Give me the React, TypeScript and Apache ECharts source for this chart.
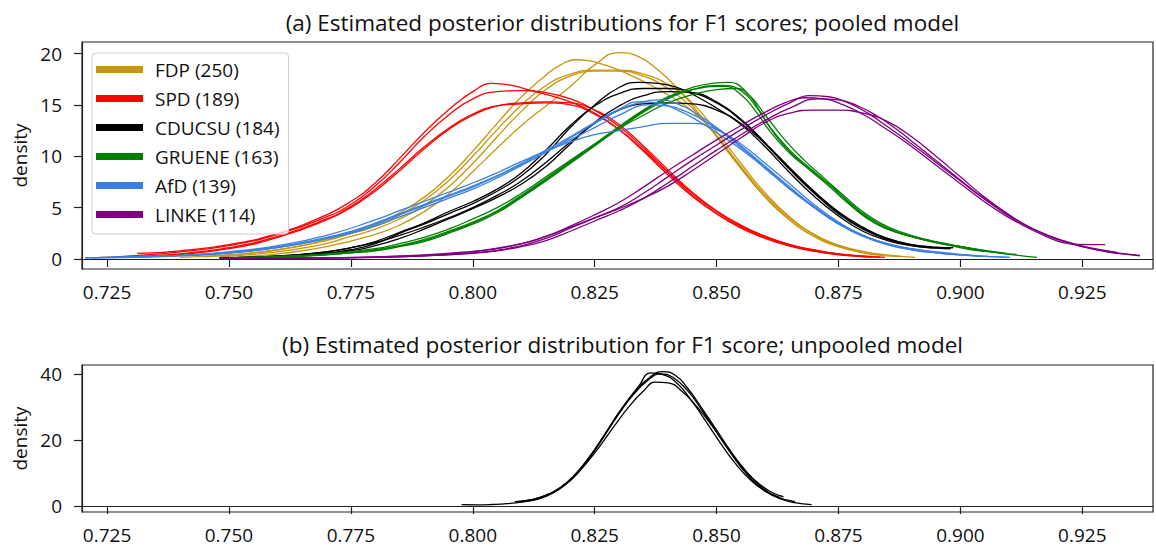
import React, { useEffect, useRef } from "react";
import * as echarts from "echarts";

const X_TICKS = [0.725, 0.75, 0.775, 0.8, 0.825, 0.85, 0.875, 0.9, 0.925];
const Y_TICKS_A = [0, 5, 10, 15, 20];
const Y_TICKS_B = [0, 20, 40];

const PARTIES = ["FDP (250)", "SPD (189)", "CDUCSU (184)", "GRUENE (163)", "AfD (139)", "LINKE (114)"];
const PARTY_COLORS = ["#c8960c", "#ff0000", "#000000", "#008000", "#3a80e3", "#800080"];

const TITLE_A = "(a) Estimated posterior distributions for F1 scores; pooled model";
const TITLE_B = "(b) Estimated posterior distribution for F1 score; unpooled model";

// FDP chains
const FDP_A = [[0.740,0.15],[0.750,0.4],[0.760,0.9],[0.770,1.8],[0.775,2.5],[0.780,3.3],[0.785,4.5],[0.790,6.0],[0.795,8.0],[0.800,10.5],[0.805,13.2],[0.810,15.8],[0.815,17.9],[0.818,18.9],[0.821,19.4],[0.824,19.3],[0.827,18.9],[0.830,18.4],[0.835,17.3],[0.840,16.0],[0.845,14.4],[0.850,12.0],[0.855,8.9],[0.860,6.0],[0.865,3.8],[0.870,2.2],[0.875,1.2],[0.880,0.7]];
const FDP_B = [[0.745,0.2],[0.755,0.6],[0.765,1.3],[0.775,2.5],[0.780,3.2],[0.785,4.3],[0.790,5.7],[0.795,7.6],[0.800,10.0],[0.805,12.6],[0.810,15.0],[0.815,16.9],[0.820,18.0],[0.825,18.4],[0.830,18.4],[0.835,18.0],[0.840,17.0],[0.845,15.2],[0.850,12.4],[0.855,9.3],[0.860,6.4],[0.865,4.1],[0.870,2.4],[0.875,1.35],[0.880,0.75],[0.885,0.4],[0.8907,0.15]];
const FDP_C = [[0.748,0.2],[0.758,0.6],[0.768,1.3],[0.775,2.2],[0.780,2.9],[0.785,3.9],[0.790,5.2],[0.795,7.0],[0.800,9.3],[0.805,11.9],[0.810,14.4],[0.815,16.5],[0.820,17.8],[0.825,18.3],[0.830,18.3],[0.835,17.8],[0.840,16.6],[0.845,14.7],[0.850,12.0],[0.855,9.0],[0.860,6.2],[0.865,4.0],[0.870,2.4],[0.875,1.3],[0.880,0.7],[0.8835,0.4]];
const FDP_D = [[0.752,0.2],[0.760,0.5],[0.770,1.2],[0.780,2.4],[0.785,3.3],[0.790,4.6],[0.795,6.3],[0.800,8.5],[0.805,10.8],[0.810,13.0],[0.815,14.9],[0.820,16.8],[0.825,18.9],[0.830,20.1],[0.834,19.7],[0.838,18.4],[0.842,16.6],[0.846,14.4],[0.850,11.9],[0.855,8.8],[0.860,6.0],[0.865,3.8],[0.870,2.2],[0.875,1.2],[0.880,0.6],[0.885,0.3],[0.888,0.25]];

// SPD chains
const SPD_A = [[0.7312,0.55],[0.740,0.8],[0.750,1.4],[0.760,2.5],[0.770,4.3],[0.775,5.6],[0.780,7.4],[0.785,9.8],[0.790,12.3],[0.795,14.5],[0.800,16.3],[0.804,17.1],[0.808,16.9],[0.812,16.4],[0.816,15.9],[0.820,15.3],[0.825,14.2],[0.830,12.6],[0.835,10.5],[0.840,8.2],[0.845,6.1],[0.850,4.4],[0.855,3.1],[0.860,2.1],[0.865,1.3],[0.870,0.8],[0.875,0.45],[0.880,0.25],[0.8835,0.15]];
const SPD_B = [[0.722,0.1],[0.730,0.3],[0.740,0.7],[0.750,1.3],[0.760,2.4],[0.770,4.1],[0.775,5.3],[0.780,7.1],[0.785,9.4],[0.790,11.9],[0.795,14.0],[0.800,15.6],[0.805,16.3],[0.810,16.4],[0.815,16.2],[0.820,15.6],[0.825,14.5],[0.830,12.9],[0.835,10.8],[0.840,8.5],[0.845,6.4],[0.850,4.6],[0.855,3.2],[0.860,2.2],[0.865,1.4],[0.870,0.85],[0.875,0.5],[0.880,0.3],[0.8845,0.15]];
const SPD_C = [[0.735,0.3],[0.740,0.45],[0.750,1.0],[0.760,2.1],[0.770,3.8],[0.775,5.0],[0.780,6.6],[0.785,8.6],[0.790,10.7],[0.795,12.6],[0.800,14.0],[0.805,14.9],[0.810,15.2],[0.815,15.3],[0.820,15.2],[0.825,14.5],[0.830,13.1],[0.835,11.0],[0.840,8.7],[0.845,6.5],[0.850,4.7],[0.855,3.3],[0.860,2.2],[0.865,1.4],[0.870,0.9],[0.875,0.5],[0.879,0.3]];
const SPD_D = [[0.728,0.2],[0.740,0.5],[0.750,1.1],[0.760,2.2],[0.770,3.9],[0.775,5.1],[0.780,6.8],[0.785,8.8],[0.790,10.9],[0.795,12.7],[0.800,14.1],[0.805,14.9],[0.810,15.1],[0.815,15.2],[0.820,15.0],[0.825,14.1],[0.830,12.6],[0.835,10.6],[0.840,8.4],[0.845,6.2],[0.850,4.4],[0.855,3.0],[0.860,2.0],[0.865,1.25],[0.870,0.75],[0.875,0.4],[0.880,0.22],[0.882,0.18]];

// CDUCSU chains
const CDU_A = [[0.752,0.1],[0.760,0.25],[0.770,0.6],[0.775,0.9],[0.780,1.5],[0.785,2.5],[0.790,3.4],[0.795,4.4],[0.800,5.4],[0.805,6.6],[0.810,8.1],[0.815,10.2],[0.820,12.8],[0.825,15.0],[0.830,16.7],[0.834,17.2],[0.838,17.1],[0.842,16.7],[0.846,15.8],[0.850,14.7],[0.855,13.1],[0.860,10.9],[0.865,8.4],[0.870,6.1],[0.875,4.2],[0.880,2.7],[0.885,1.8],[0.890,1.3],[0.895,1.1],[0.8985,1.1]];
const CDU_B = [[0.748,0.1],[0.760,0.3],[0.770,0.7],[0.775,1.1],[0.780,1.7],[0.785,2.6],[0.790,3.5],[0.795,4.6],[0.800,5.6],[0.805,6.8],[0.810,8.4],[0.815,10.6],[0.820,13.0],[0.825,14.9],[0.830,16.1],[0.835,16.6],[0.840,16.6],[0.845,16.2],[0.850,15.2],[0.855,13.5],[0.860,11.2],[0.865,8.7],[0.870,6.4],[0.875,4.4],[0.880,2.9],[0.885,1.9],[0.890,1.3],[0.895,1.05],[0.898,1.0]];
const CDU_C = [[0.755,0.1],[0.765,0.35],[0.775,0.8],[0.780,1.3],[0.785,2.0],[0.790,2.9],[0.795,3.9],[0.800,4.9],[0.805,6.0],[0.810,7.3],[0.815,9.0],[0.820,11.2],[0.825,13.3],[0.830,14.9],[0.835,15.9],[0.840,16.3],[0.845,16.2],[0.850,15.3],[0.855,13.6],[0.860,11.3],[0.865,8.8],[0.870,6.5],[0.875,4.5],[0.880,3.0],[0.885,2.0],[0.890,1.4],[0.894,1.2]];
const CDU_D = [[0.750,0.1],[0.760,0.3],[0.770,0.7],[0.780,1.6],[0.785,2.3],[0.790,3.1],[0.795,4.0],[0.800,5.0],[0.805,6.2],[0.810,7.6],[0.815,9.4],[0.820,11.4],[0.825,13.2],[0.830,14.5],[0.835,15.1],[0.840,15.2],[0.845,15.1],[0.850,14.5],[0.855,13.2],[0.860,11.2],[0.865,8.9],[0.870,6.6],[0.875,4.6],[0.880,3.1],[0.885,2.0],[0.890,1.4],[0.895,1.15],[0.8985,1.1]];

// GRUENE chains
const GRU_A = [[0.752,0.1],[0.760,0.2],[0.770,0.4],[0.780,0.9],[0.785,1.3],[0.790,1.9],[0.795,2.7],[0.800,3.6],[0.805,4.7],[0.810,6.2],[0.815,7.8],[0.820,9.5],[0.825,11.2],[0.830,12.9],[0.835,14.5],[0.840,15.8],[0.845,16.7],[0.849,17.1],[0.8525,17.2],[0.856,16.3],[0.859,14.3],[0.862,12.1],[0.866,10.0],[0.870,8.4],[0.874,6.9],[0.878,5.1],[0.882,3.7],[0.886,2.8],[0.890,2.2],[0.895,1.6],[0.900,1.2],[0.905,0.8],[0.910,0.45],[0.9157,0.15]];
const GRU_B = [[0.755,0.1],[0.765,0.3],[0.775,0.6],[0.780,0.8],[0.785,1.2],[0.790,1.7],[0.795,2.5],[0.800,3.4],[0.805,4.5],[0.810,6.0],[0.815,7.6],[0.820,9.3],[0.825,11.0],[0.830,12.7],[0.835,14.3],[0.840,15.6],[0.845,16.5],[0.851,16.9],[0.855,16.4],[0.858,14.9],[0.861,12.8],[0.865,10.6],[0.869,8.9],[0.873,7.3],[0.877,5.6],[0.881,4.1],[0.885,3.0],[0.889,2.3],[0.894,1.7],[0.899,1.2],[0.903,0.85],[0.9066,0.7]];
const GRU_C = [[0.750,0.1],[0.760,0.25],[0.770,0.5],[0.780,1.0],[0.785,1.5],[0.790,2.1],[0.795,2.9],[0.800,3.9],[0.805,5.0],[0.810,6.4],[0.815,8.0],[0.820,9.6],[0.825,11.2],[0.830,12.7],[0.835,14.0],[0.840,15.2],[0.845,16.0],[0.850,16.5],[0.854,16.6],[0.857,15.8],[0.860,14.0],[0.864,11.6],[0.868,9.6],[0.872,7.9],[0.876,6.2],[0.880,4.6],[0.884,3.4],[0.888,2.6],[0.893,1.9],[0.898,1.4],[0.903,0.95],[0.908,0.6],[0.9115,0.45]];
const GRU_D = [[0.753,0.1],[0.762,0.25],[0.772,0.5],[0.780,0.85],[0.785,1.25],[0.790,1.8],[0.795,2.6],[0.800,3.5],[0.805,4.6],[0.810,6.1],[0.815,7.7],[0.820,9.4],[0.825,11.1],[0.830,12.8],[0.835,14.4],[0.840,15.7],[0.845,16.5],[0.8515,16.8],[0.855,16.0],[0.858,14.4],[0.861,12.4],[0.865,10.3],[0.869,8.7],[0.873,7.1],[0.877,5.4],[0.881,3.9],[0.885,2.9],[0.889,2.3],[0.894,1.75],[0.899,1.3],[0.904,0.9],[0.9095,0.55]];

// AfD chains
const AFD_A = [[0.7205,0.1],[0.730,0.15],[0.740,0.3],[0.750,0.55],[0.760,1.1],[0.770,2.0],[0.775,2.6],[0.780,3.4],[0.785,4.3],[0.790,5.2],[0.795,6.1],[0.800,7.0],[0.805,8.1],[0.810,9.3],[0.815,10.6],[0.820,11.9],[0.825,13.3],[0.830,14.6],[0.834,15.3],[0.838,15.2],[0.842,14.5],[0.846,13.5],[0.850,12.3],[0.855,10.7],[0.860,8.8],[0.865,6.8],[0.870,5.0],[0.875,3.4],[0.880,2.2],[0.885,1.4],[0.890,0.9],[0.895,0.6],[0.900,0.4],[0.905,0.25],[0.9101,0.15]];
const AFD_B = [[0.7205,0.1],[0.730,0.2],[0.740,0.35],[0.750,0.65],[0.760,1.2],[0.770,2.1],[0.775,2.7],[0.780,3.5],[0.785,4.4],[0.790,5.3],[0.795,6.2],[0.800,7.1],[0.805,8.1],[0.810,9.2],[0.815,10.4],[0.820,11.6],[0.825,12.8],[0.830,14.0],[0.836,15.0],[0.840,14.9],[0.844,14.3],[0.848,13.3],[0.852,12.0],[0.856,10.5],[0.860,8.9],[0.865,6.9],[0.870,5.1],[0.875,3.5],[0.880,2.3],[0.885,1.5],[0.890,1.0],[0.895,0.65],[0.900,0.4],[0.905,0.25],[0.9101,0.15]];
const AFD_C = [[0.7235,0.15],[0.735,0.25],[0.745,0.45],[0.755,0.85],[0.765,1.5],[0.775,2.5],[0.780,3.2],[0.785,4.1],[0.790,5.0],[0.795,5.9],[0.800,6.8],[0.805,7.9],[0.810,9.1],[0.815,10.4],[0.820,11.8],[0.825,13.2],[0.830,14.5],[0.834,15.2],[0.838,15.5],[0.842,15.1],[0.846,14.1],[0.850,12.8],[0.855,11.0],[0.860,9.0],[0.865,7.0],[0.870,5.1],[0.875,3.5],[0.880,2.3],[0.885,1.4],[0.890,0.9],[0.895,0.6],[0.900,0.4],[0.9055,0.25]];
const AFD_D = [[0.726,0.15],[0.740,0.35],[0.750,0.7],[0.760,1.3],[0.770,2.3],[0.780,3.8],[0.785,4.7],[0.790,5.6],[0.795,6.5],[0.800,7.4],[0.805,8.4],[0.810,9.5],[0.815,10.5],[0.820,11.4],[0.825,12.1],[0.830,12.5],[0.835,12.9],[0.840,13.2],[0.845,13.2],[0.850,12.6],[0.855,11.2],[0.860,9.3],[0.865,7.3],[0.870,5.3],[0.875,3.6],[0.880,2.3],[0.885,1.5],[0.890,1.0],[0.895,0.7],[0.900,0.45],[0.904,0.3]];

// LINKE chains
const LIN_A = [[0.752,0.05],[0.770,0.1],[0.780,0.15],[0.790,0.3],[0.800,0.6],[0.805,0.85],[0.810,1.3],[0.815,2.0],[0.820,3.0],[0.825,4.0],[0.830,5.0],[0.835,6.4],[0.840,8.0],[0.845,9.6],[0.850,11.1],[0.855,12.6],[0.860,14.0],[0.865,15.2],[0.869,15.9],[0.873,15.8],[0.877,15.2],[0.881,14.2],[0.885,12.9],[0.890,11.2],[0.895,9.4],[0.900,7.6],[0.905,5.8],[0.910,4.2],[0.915,2.9],[0.920,1.9],[0.925,1.2],[0.930,0.75],[0.9368,0.35]];
const LIN_B = [[0.750,0.05],[0.770,0.1],[0.780,0.15],[0.790,0.3],[0.800,0.55],[0.805,0.8],[0.810,1.2],[0.815,1.8],[0.820,2.7],[0.825,3.7],[0.830,4.7],[0.835,5.9],[0.840,7.4],[0.845,9.0],[0.850,10.6],[0.855,12.1],[0.860,13.5],[0.865,14.7],[0.871,15.6],[0.875,15.5],[0.879,14.9],[0.883,13.9],[0.887,12.6],[0.891,11.1],[0.896,9.2],[0.901,7.3],[0.906,5.5],[0.911,3.9],[0.916,2.7],[0.921,1.8],[0.926,1.15],[0.9321,0.65]];
const LIN_C = [[0.753,0.05],[0.770,0.12],[0.780,0.2],[0.790,0.4],[0.800,0.75],[0.805,1.0],[0.810,1.5],[0.815,2.2],[0.820,3.2],[0.825,4.3],[0.830,5.5],[0.835,7.0],[0.840,8.6],[0.845,10.1],[0.850,11.6],[0.855,13.0],[0.860,14.3],[0.864,15.2],[0.868,15.7],[0.872,15.6],[0.876,15.0],[0.880,14.1],[0.884,12.9],[0.889,11.3],[0.894,9.5],[0.899,7.7],[0.904,5.9],[0.909,4.3],[0.914,3.0],[0.918,2.1],[0.921,1.6],[0.924,1.42],[0.9297,1.4]];
const LIN_D = [[0.748,0.05],[0.770,0.1],[0.790,0.35],[0.800,0.7],[0.810,1.5],[0.815,2.2],[0.820,3.1],[0.825,4.0],[0.830,4.9],[0.835,5.9],[0.840,7.1],[0.845,8.6],[0.850,10.2],[0.855,11.8],[0.860,13.3],[0.865,14.2],[0.870,14.5],[0.875,14.5],[0.880,14.2],[0.885,13.4],[0.890,11.9],[0.895,10.0],[0.900,8.0],[0.905,6.0],[0.910,4.3],[0.915,2.9],[0.920,1.9],[0.925,1.2],[0.930,0.7],[0.935,0.4],[0.9368,0.3]];

// Unpooled model chains
const UNP_A = [[0.8095,1.2],[0.812,1.6],[0.815,2.9],[0.818,5.4],[0.821,9.4],[0.824,15.0],[0.827,21.6],[0.830,28.4],[0.833,34.2],[0.836,38.6],[0.839,40.7],[0.8415,39.6],[0.844,35.8],[0.847,29.6],[0.850,23.0],[0.853,16.4],[0.856,10.6],[0.859,6.0],[0.862,3.0],[0.8661,1.3]];
const UNP_B = [[0.7977,0.4],[0.801,0.35],[0.804,0.45],[0.807,0.7],[0.810,1.2],[0.813,2.1],[0.816,3.7],[0.819,6.4],[0.822,10.8],[0.825,16.8],[0.828,23.6],[0.831,30.4],[0.834,36.2],[0.8365,40.3],[0.839,39.8],[0.842,37.0],[0.845,31.6],[0.848,25.2],[0.851,18.6],[0.854,12.6],[0.857,7.8],[0.860,4.4],[0.863,2.2],[0.866,1.0],[0.8695,0.4]];
const UNP_C = [[0.8086,1.3],[0.811,1.6],[0.814,2.7],[0.817,4.6],[0.820,7.8],[0.823,12.4],[0.826,18.0],[0.829,24.2],[0.832,30.0],[0.835,34.8],[0.8375,37.5],[0.840,37.3],[0.843,34.6],[0.846,30.0],[0.849,24.4],[0.852,18.0],[0.855,12.2],[0.858,7.6],[0.861,4.4],[0.8637,2.8]];
const UNP_D = [[0.809,1.3],[0.812,1.9],[0.815,3.3],[0.818,5.7],[0.821,9.6],[0.824,15.0],[0.827,21.4],[0.830,28.0],[0.833,33.8],[0.836,38.2],[0.8385,40.0],[0.841,39.0],[0.844,35.0],[0.847,29.0],[0.850,22.4],[0.853,15.8],[0.856,10.0],[0.859,5.6],[0.863,2.5]];

const PARTY_CHAINS = [
  [FDP_A, FDP_B, FDP_C, FDP_D],
  [SPD_A, SPD_B, SPD_C, SPD_D],
  [CDU_A, CDU_B, CDU_C, CDU_D],
  [GRU_A, GRU_B, GRU_C, GRU_D],
  [AFD_A, AFD_B, AFD_C, AFD_D],
  [LIN_A, LIN_B, LIN_C, LIN_D],
];
const UNPOOLED_CHAINS = [UNP_A, UNP_B, UNP_C, UNP_D];

const FONT = "Open Sans";
const X_MIN = 0.71987;
const X_MAX = 0.93949;

function lineSeries(name: string, data: number[][], color: string, axisIndex: number) {
  return {
    type: "line",
    name,
    xAxisIndex: axisIndex,
    yAxisIndex: axisIndex,
    data,
    showSymbol: false,
    symbol: "none",
    smooth: 0.5,
    silent: true,
    lineStyle: { width: 1.3, color },
    itemStyle: { color },
  };
}

function buildOption() {
  const series: any[] = [];
  PARTY_CHAINS.forEach((chains, i) => {
    chains.forEach((chain) => series.push(lineSeries(PARTIES[i], chain, PARTY_COLORS[i], 0)));
  });
  UNPOOLED_CHAINS.forEach((chain) => series.push(lineSeries("unpooled", chain, "#000000", 1)));

  const xAxisCommon = (gridIndex: number) => ({
    type: "value",
    gridIndex,
    min: X_MIN,
    max: X_MAX,
    axisLine: { show: true, lineStyle: { color: "#222", width: 1.2 } },
    axisTick: { show: true, customValues: X_TICKS, length: 8, lineStyle: { color: "#222", width: 1.2 } },
    axisLabel: {
      customValues: X_TICKS,
      formatter: (v: number) => v.toFixed(3),
      fontSize: 19,
      fontFamily: FONT,
      color: "#111",
      margin: 13,
    },
    splitLine: { show: false },
  });

  const yAxisCommon = (gridIndex: number, min: number, max: number, ticks: number[]) => ({
    type: "value",
    gridIndex,
    min,
    max,
    name: "density",
    nameLocation: "middle",
    nameRotate: 90,
    nameGap: 53,
    nameTextStyle: { fontSize: 19, fontFamily: FONT, color: "#111" },
    axisLine: { show: true, lineStyle: { color: "#222", width: 1.2 } },
    axisTick: { show: true, customValues: ticks, length: 8, lineStyle: { color: "#222", width: 1.2 } },
    axisLabel: {
      customValues: ticks,
      fontSize: 19,
      fontFamily: FONT,
      color: "#111",
      margin: 20,
    },
    splitLine: { show: false },
  });

  return {
    animation: false,
    backgroundColor: "#fff",
    title: [
      {
        text: TITLE_A,
        left: 617.5,
        top: 6,
        textAlign: "center",
        textStyle: { fontSize: 22.5, fontFamily: FONT, fontWeight: "normal", color: "#111" },
      },
      {
        text: TITLE_B,
        left: 617.5,
        top: 328,
        textAlign: "center",
        textStyle: { fontSize: 22.5, fontFamily: FONT, fontWeight: "normal", color: "#111" },
      },
    ],
    legend: {
      data: PARTIES,
      orient: "vertical",
      left: 92,
      top: 53,
      padding: [7, 9, 10, 4],
      itemGap: 10,
      itemWidth: 47,
      itemHeight: 7,
      icon: "rect",
      selectedMode: false,
      backgroundColor: "rgba(255,255,255,0.8)",
      borderColor: "#cccccc",
      borderWidth: 1,
      borderRadius: 4,
      textStyle: { fontSize: 19, fontFamily: FONT, color: "#111", padding: [0, 0, 0, 7], lineHeight: 19 },
    },
    grid: [
      { left: 82, top: 42, width: 1071, height: 227, show: true, borderColor: "#222", borderWidth: 1.2, backgroundColor: "transparent" },
      { left: 82, top: 365, width: 1071, height: 147, show: true, borderColor: "#222", borderWidth: 1.2, backgroundColor: "transparent" },
    ],
    xAxis: [xAxisCommon(0), xAxisCommon(1)],
    yAxis: [yAxisCommon(0, -0.974, 21.13, Y_TICKS_A), yAxisCommon(1, -1.82, 42.7, Y_TICKS_B)],
    series,
  };
}

export default function App() {
  const ref = useRef<HTMLDivElement>(null);
  useEffect(() => {
    if (!ref.current) return;
    const chart = echarts.init(ref.current, null, { renderer: "svg" });
    chart.setOption(buildOption() as any);
    return () => {
      chart.dispose();
    };
  }, []);
  return (
    <div
      ref={ref}
      style={{ position: "absolute", left: 0, top: 0, width: 1156, height: 550, background: "#fff" }}
    />
  );
}
